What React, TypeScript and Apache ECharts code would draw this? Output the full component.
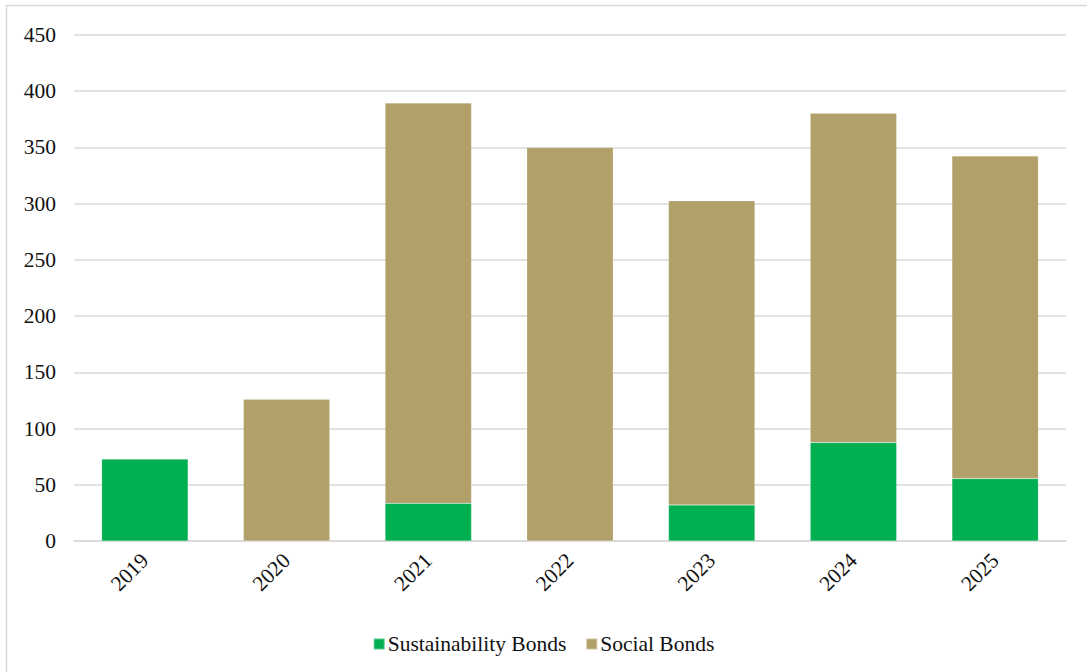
import React, { useEffect, useRef } from "react";
import * as echarts from "echarts";

const years = ["2019", "2020", "2021", "2022", "2023", "2024", "2025"];
const sustainabilityBonds = [73, 0, 33.5, 0, 32, 87.5, 55.5];
const socialBonds = [0, 126, 356, 350, 270.5, 293, 287];

const FONT = "Times New Roman, Liberation Serif, serif";
const FS = 21.5;

export default function App() {
  const ref = useRef<HTMLDivElement>(null);
  useEffect(() => {
    if (!ref.current) return;
    const chart = echarts.init(ref.current, undefined, { renderer: "svg" });
    chart.setOption({
      animation: false,
      backgroundColor: "#ffffff",
      textStyle: { fontFamily: FONT },
      graphic: [
        {
          type: "rect",
          shape: { x: 6.5, y: 5.5, width: 1100, height: 700 },
          style: { fill: "none", stroke: "#d9d9d9", lineWidth: 1.5 },
          silent: true,
        },
      ],
      grid: { left: 74, right: 21, top: 35, bottom: 131, containLabel: false },
      legend: {
        bottom: 12,
        left: "center",
        itemWidth: 11,
        itemHeight: 11,
        itemGap: 19,
        icon: "rect",
        textStyle: { fontFamily: FONT, fontSize: FS, color: "#111111", padding: [0, 0, 0, -2] },
        data: ["Sustainability Bonds", "Social Bonds"],
      },
      xAxis: {
        type: "category",
        data: years,
        axisLine: { lineStyle: { color: "#d9d9d9", width: 1.5 } },
        axisTick: { show: false },
        axisLabel: { rotate: 45, margin: 16, fontFamily: FONT, fontSize: FS, color: "#111111" },
      },
      yAxis: {
        type: "value",
        min: 0,
        max: 450,
        interval: 50,
        axisLine: { show: false },
        axisTick: { show: false },
        splitLine: { lineStyle: { color: "#d9d9d9", width: 1.5 } },
        axisLabel: { margin: 18, fontFamily: FONT, fontSize: FS, color: "#111111" },
      },
      series: [
        {
          name: "Sustainability Bonds",
          type: "bar",
          stack: "total",
          barWidth: "61%",
          data: sustainabilityBonds,
          itemStyle: { color: "#00AF50", borderColor: "rgba(255,255,255,0.35)", borderWidth: 0.5 },
        },
        {
          name: "Social Bonds",
          type: "bar",
          stack: "total",
          barWidth: "61%",
          data: socialBonds,
          itemStyle: { color: "#B2A06A", borderColor: "rgba(255,255,255,0.35)", borderWidth: 0.5 },
        },
      ],
    });
    return () => chart.dispose();
  }, []);
  return <div ref={ref} style={{ position: "fixed", left: 0, top: 0, width: 1087, height: 672 }} />;
}
